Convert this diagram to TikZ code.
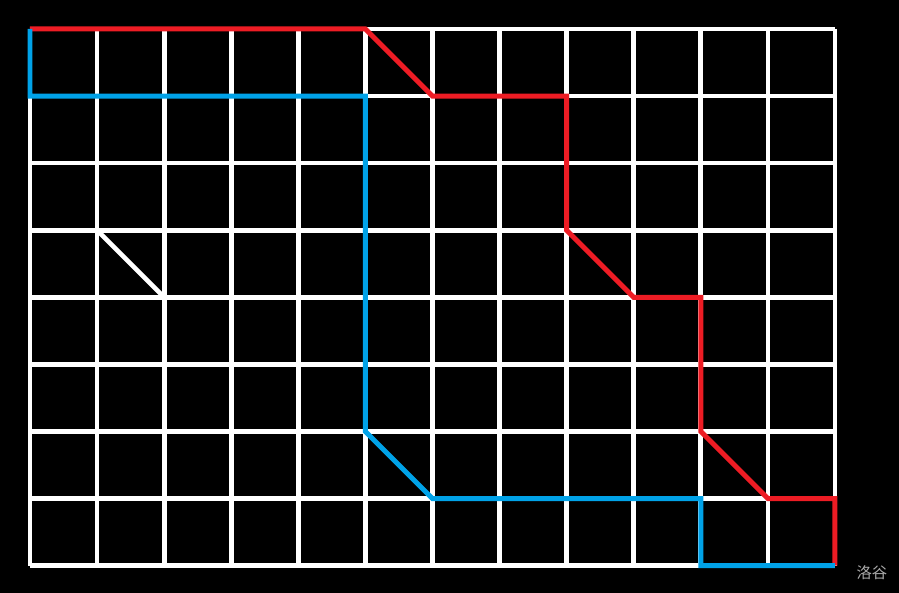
\documentclass[tikz,border=0pt]{standalone}
\usepackage{fontspec}
\newfontfamily\cjk{Noto Sans CJK SC}
\usepackage{xcolor}
\usepackage{tikz}
\definecolor{pathred}{RGB}{237,28,36}
\definecolor{pathblue}{RGB}{0,162,232}
\definecolor{markgray}{RGB}{170,170,170}

\begin{document}
\begin{tikzpicture}[
  x=1cm, y=-1cm,
  gridline/.style={draw=white, line width=2pt},
  redpath/.style={draw=pathred, line width=2.1pt, line join=miter},
  bluepath/.style={draw=pathblue, line width=2.1pt, line join=miter},
  wmark/.style={font=\cjk\fontsize{6.5}{8}\selectfont, text=markgray}
]
% background and margins
\fill[black] (-0.447,-0.432) rectangle (12.955,8.408);
\useasboundingbox (-0.447,-0.432) rectangle (12.955,8.408);

% grid
\foreach \i in {0,...,12} \draw[gridline] (\i,0) -- (\i,8);
\foreach \j in {0,...,8} \draw[gridline] (0,\j) -- (12,\j);
\draw[gridline] (1,3) -- (2,4);

% red route
\draw[redpath] (0,0) -- (5,0) -- (6,1) -- (8,1) -- (8,3) -- (9,4) -- (10,4)
  -- (10,6) -- (11,7) -- (12,7) -- (12,8);

% blue route
\draw[bluepath] (0,0) -- (0,1) -- (5,1) -- (5,6) -- (6,7) -- (10,7) -- (10,8)
  -- (12,8);

\node[wmark] (wm) at (12.55,8.1) {洛谷};
\end{tikzpicture}
\end{document}
